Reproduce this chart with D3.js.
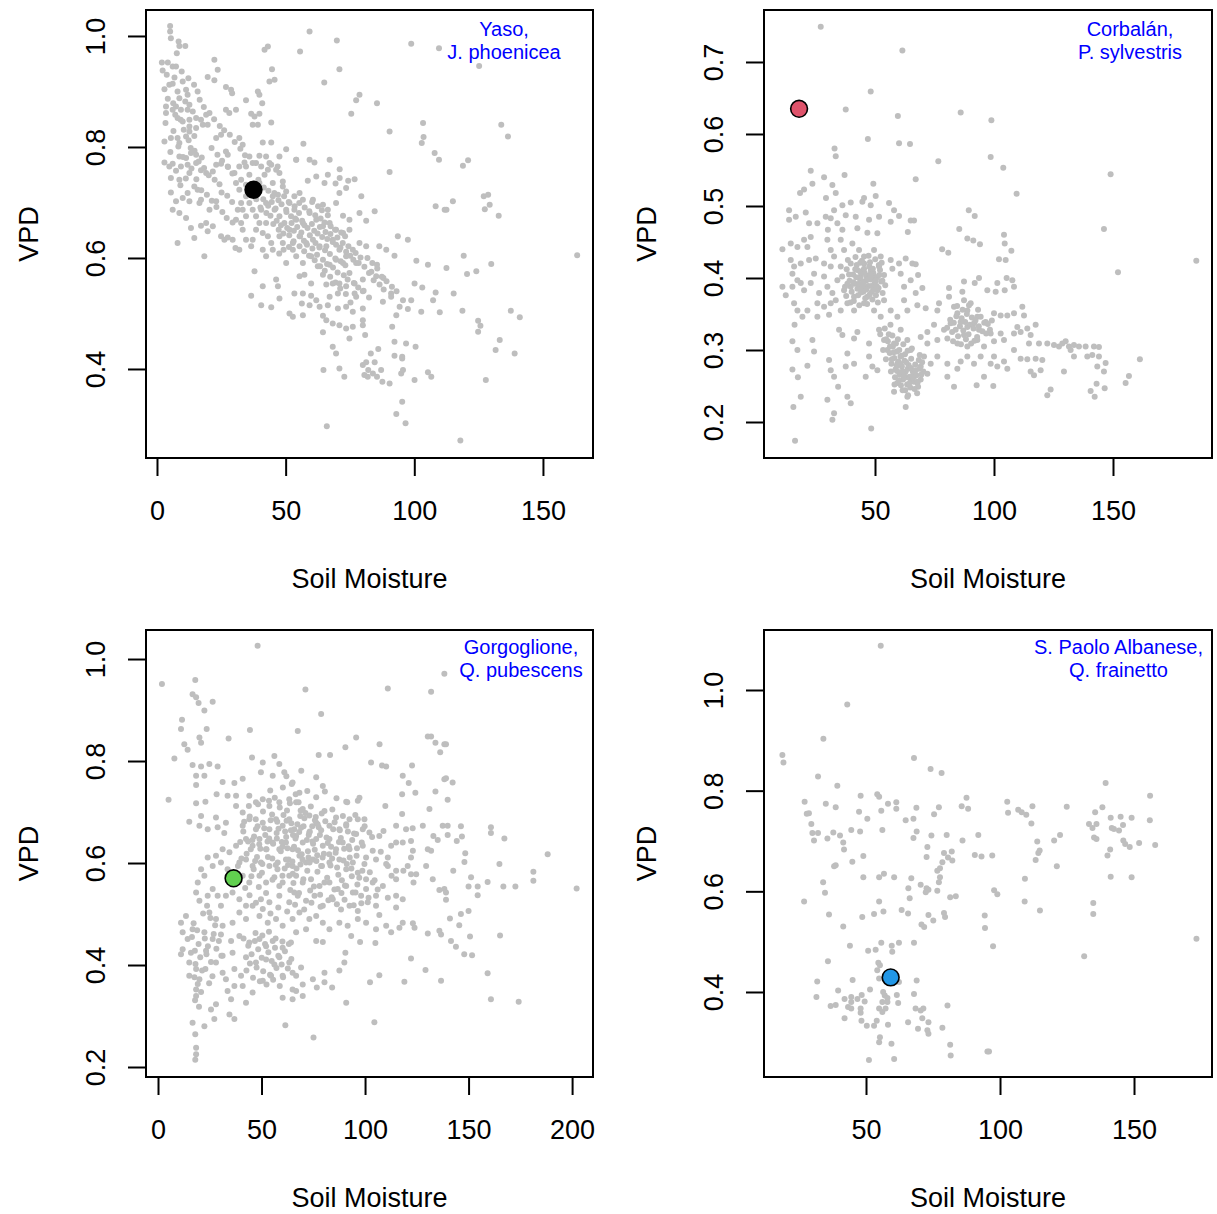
<!DOCTYPE html>
<html><head><meta charset="utf-8">
<script src="https://cdn.jsdelivr.net/npm/d3@7"></script>
<style>body{margin:0;background:#fff}svg{display:block}</style>
</head><body><svg id="chart" width="1217" height="1214"></svg>
<script>
// ---------------- DATA ----------------
const siteTitles = [
  ["Yaso,", "J. phoenicea"],
  ["Corbalán,", "P. sylvestris"],
  ["Gorgoglione,", "Q. pubescens"],
  ["S. Paolo Albanese,", "Q. frainetto"]
];
const xAxisTitle = "Soil Moisture";
const yAxisTitle = "VPD";

const xTicksYaso = [0, 50, 100, 150];
const yTicksYaso = [0.4, 0.6, 0.8, 1.0];
const xTicksCorbalan = [50, 100, 150];
const yTicksCorbalan = [0.2, 0.3, 0.4, 0.5, 0.6, 0.7];
const xTicksGorgoglione = [0, 50, 100, 150, 200];
const yTicksGorgoglione = [0.2, 0.4, 0.6, 0.8, 1.0];
const xTicksPaolo = [50, 100, 150];
const yTicksPaolo = [0.4, 0.6, 0.8, 1.0];

const highlightYaso = [37.5, 0.723];
const highlightCorbalan = [18.1, 0.635];
const highlightGorgoglione = [36.5, 0.570];
const highlightPaolo = [59.2, 0.429];

const yasoPoints = [
[5.1,1.018],[5.1,1.008],[5.4,0.996],[8.4,0.990],[8.7,0.982],[11.0,0.982],[7.7,0.969],[1.9,0.952],[4.2,0.952],[6.1,0.945],[7.4,0.945],[2.2,0.938],[22.3,0.957],[44.7,0.940],[41.8,0.975],[43.1,0.981],[45.7,0.921],[43.7,0.918],[19.7,0.926],[23.6,0.939],[22.3,0.920],[2.9,0.904],[4.8,0.912],[6.1,0.914],[8.0,0.900],[10.0,0.918],[11.3,0.903],[11.9,0.894],[8.7,0.888],[11.0,0.882],[12.6,0.876],[15.8,0.900],[7.4,0.873],[3.5,0.873],[6.1,0.867],[3.5,0.861],[9.3,0.867],[11.9,0.867],[13.9,0.864],[8.0,0.852],[10.0,0.846],[12.6,0.849],[15.2,0.852],[17.1,0.849],[19.1,0.858],[26.8,0.867],[28.1,0.861],[30.7,0.867],[26.8,0.908],[28.8,0.903],[29.2,0.897],[34.6,0.884],[39.2,0.900],[39.8,0.894],[40.9,0.879],[36.6,0.860],[37.9,0.855],[39.8,0.860],[37.2,0.840],[39.2,0.840],[44.4,0.844],[2.9,0.810],[5.4,0.816],[8.0,0.816],[8.7,0.807],[11.3,0.819],[12.6,0.828],[14.5,0.820],[12.6,0.837],[15.2,0.834],[17.8,0.840],[19.7,0.840],[23.0,0.816],[24.9,0.822],[26.8,0.792],[27.5,0.786],[32.0,0.816],[33.3,0.804],[41.1,0.808],[44.4,0.808],[47.6,0.783],[50.2,0.796],[54.1,0.777],[2.9,0.772],[4.8,0.765],[6.1,0.770],[8.7,0.783],[9.3,0.765],[11.3,0.780],[13.2,0.789],[15.2,0.786],[11.9,0.768],[12.6,0.753],[15.2,0.771],[17.1,0.758],[19.1,0.753],[21.7,0.756],[23.0,0.768],[24.9,0.770],[27.5,0.765],[30.1,0.753],[32.0,0.765],[34.0,0.772],[35.9,0.783],[38.5,0.771],[40.5,0.765],[42.4,0.783],[44.4,0.768],[46.9,0.765],[47.6,0.753],[48.9,0.738],[5.4,0.744],[8.7,0.741],[5.4,0.718],[7.4,0.702],[10.0,0.708],[11.9,0.717],[14.5,0.729],[15.8,0.723],[12.6,0.702],[16.5,0.699],[17.1,0.705],[20.4,0.687],[23.0,0.702],[6.1,0.687],[8.7,0.681],[11.3,0.672],[13.2,0.654],[14.5,0.636],[17.1,0.658],[19.1,0.663],[21.7,0.657],[19.7,0.648],[24.9,0.639],[26.2,0.633],[27.5,0.637],[29.4,0.633],[30.5,0.618],[32.0,0.615],[30.7,0.669],[32.7,0.663],[33.3,0.651],[34.6,0.633],[36.6,0.621],[8.0,0.627],[18.4,0.603],[34.6,0.711],[35.9,0.699],[37.2,0.687],[38.5,0.675],[39.8,0.663],[42.4,0.663],[41.1,0.645],[43.1,0.639],[44.4,0.627],[41.1,0.615],[42.4,0.603],[38.5,0.651],[37.2,0.633],[40.5,0.687],[42.4,0.699],[45.0,0.711],[47.0,0.714],[48.9,0.729],[50.2,0.720],[45.7,0.687],[47.6,0.675],[49.5,0.663],[51.5,0.651],[52.8,0.627],[52.8,0.615],[53.4,0.711],[47.6,0.639],[48.9,0.627],[45.0,0.615],[50.2,0.591],[37.9,0.576],[46.3,0.561],[47.0,0.549],[41.1,0.549],[36.6,0.532],[40.5,0.515],[44.4,0.511],[47.6,0.527],[51.5,0.500],[52.8,0.494],[53.4,0.536],[53.4,0.687],[51.5,0.699],[50.2,0.687],[34.6,0.675],[33.3,0.687],[32.7,0.699],[31.4,0.687],[32.0,0.723],[30.7,0.735],[32.7,0.741],[34.6,0.732],[35.9,0.750],[39.8,0.735],[41.8,0.750],[43.1,0.759],[45.0,0.735],[46.3,0.759],[43.7,0.771],[39.8,0.784],[37.2,0.771],[34.6,0.765],
[59.3,1.008],[69.9,0.992],[55.6,0.972],[70.9,0.940],[65.0,0.916],[78.7,0.894],[77.4,0.884],[85.5,0.879],[75.5,0.860],[98.8,0.986],[109.6,0.978],[103.4,0.843],[103.6,0.818],[102.9,0.807],[90.4,0.828],[107.9,0.789],[109.6,0.777],[56.9,0.806],[90.4,0.755],[108.3,0.693],[111.8,0.687],[54.1,0.777],[59.3,0.777],[61.2,0.772],[67.1,0.777],[71.0,0.760],[58.6,0.739],[61.9,0.747],[66.4,0.750],[71.0,0.744],[74.3,0.739],[76.8,0.742],[65.1,0.735],[69.4,0.734],[73.5,0.726],[70.9,0.717],[55.4,0.717],[56.7,0.705],[60.6,0.705],[64.5,0.696],[66.4,0.687],[69.6,0.699],[72.3,0.676],[74.8,0.669],[78.7,0.681],[81.3,0.667],[84.6,0.684],[79.4,0.711],[54.1,0.669],[56.7,0.663],[59.3,0.681],[61.9,0.669],[64.5,0.657],[67.1,0.663],[69.6,0.651],[72.3,0.645],[74.8,0.651],[55.4,0.639],[58.0,0.627],[60.6,0.633],[63.2,0.621],[65.8,0.621],[68.3,0.633],[70.9,0.615],[73.5,0.603],[76.1,0.615],[78.7,0.627],[81.3,0.621],[86.4,0.621],[89.1,0.615],[92.3,0.604],[93.6,0.639],[97.5,0.633],[54.1,0.603],[56.7,0.591],[59.9,0.603],[62.5,0.585],[67.1,0.588],[69.6,0.597],[72.3,0.591],[74.8,0.573],[77.4,0.591],[81.8,0.600],[83.7,0.591],[85.5,0.588],[82.4,0.573],[85.2,0.567],[88.0,0.564],[55.4,0.567],[57.3,0.570],[59.9,0.554],[64.5,0.570],[65.8,0.552],[68.3,0.554],[70.9,0.554],[73.5,0.549],[76.8,0.554],[80.0,0.561],[80.0,0.540],[56.7,0.536],[59.9,0.532],[61.9,0.524],[67.1,0.530],[70.3,0.536],[76.8,0.536],[56.3,0.518],[59.3,0.515],[63.2,0.512],[66.4,0.515],[70.3,0.509],[73.5,0.512],[76.1,0.503],[80.0,0.509],[87.8,0.521],[91.0,0.536],[91.0,0.530],[94.3,0.512],[95.6,0.524],[98.8,0.524],[100.8,0.595],[105.3,0.588],[100.1,0.554],[103.1,0.547],[107.3,0.524],[108.3,0.538],[109.9,0.502],[102.7,0.503],[97.5,0.508],[93.0,0.497],[64.5,0.496],[56.7,0.497],[65.8,0.488],[68.3,0.482],[70.9,0.479],[73.5,0.473],[76.1,0.476],[80.0,0.488],[80.0,0.479],[64.5,0.466],[74.8,0.455],[80.9,0.461],[91.4,0.476],[92.3,0.449],[96.8,0.446],[100.5,0.440],[68.3,0.440],[69.6,0.428],[83.1,0.428],[86.0,0.436],[92.3,0.424],[95.3,0.419],[95.3,0.422],[81.3,0.412],[84.6,0.412],[80.0,0.407],[82.1,0.398],[83.9,0.392],[87.1,0.398],[80.6,0.389],[81.9,0.386],[85.5,0.386],[87.6,0.377],[90.4,0.374],[94.9,0.392],[95.6,0.398],[100.1,0.380],[105.3,0.394],[106.6,0.386],[64.7,0.398],[70.9,0.401],[72.8,0.386],[95.3,0.341],[93.0,0.319],[96.6,0.302],[66.0,0.297],
[125.2,0.946],[133.8,0.840],[136.4,0.819],[118.9,0.766],[120.9,0.776],[115.0,0.702],[112.5,0.687],[127.0,0.711],[128.7,0.714],[127.4,0.688],[129.3,0.696],[132.8,0.676],[119.2,0.604],[112.5,0.582],[120.5,0.571],[124.1,0.576],[129.9,0.589],[163.3,0.605],[115.3,0.536],[118.7,0.505],[124.8,0.487],[125.7,0.478],[124.8,0.467],[137.5,0.505],[141.0,0.493],[133.2,0.452],[131.6,0.434],[139.0,0.428],[127.8,0.380],[117.9,0.271],
[41.3,0.706],[43.2,0.694],[44.6,0.701],[46.1,0.689],[48.4,0.697],[50.3,0.683],[52.1,0.675],[53.7,0.671],[55.2,0.681],[56.4,0.667],[57.3,0.659],[58.5,0.654],[60.2,0.661],[61.1,0.649],[62.4,0.644],[63.3,0.656],[64.2,0.638],[65.5,0.647],[66.2,0.634],[67.4,0.643],[68.3,0.629],[69.6,0.624],[70.1,0.637],[71.3,0.619],[72.2,0.627],[73.5,0.611],[74.4,0.621],[75.1,0.604],[76.3,0.597],[77.2,0.609],[78.4,0.591],[79.1,0.601],[80.6,0.584],[45.2,0.661],[47.3,0.651],[49.1,0.644],[51.4,0.641],[53.2,0.649],[55.6,0.639],[57.1,0.631],[59.4,0.641],[61.6,0.627],[63.1,0.619],[65.3,0.614],[67.2,0.607],[69.3,0.599],[71.4,0.594],[73.2,0.587],[44.1,0.676],[46.5,0.667],[48.2,0.659],[50.6,0.654],[52.3,0.663],[54.5,0.656],[56.1,0.646],[58.3,0.624],[60.4,0.617],[62.2,0.606],[64.5,0.597],[66.1,0.589],[68.4,0.583],[70.2,0.574],[72.6,0.569],[74.1,0.561],[76.5,0.555],[78.2,0.547],[80.3,0.541],[82.4,0.529],[55.3,0.699],[57.4,0.691],[59.2,0.684],[61.5,0.677],[63.6,0.671],[65.1,0.664],[67.5,0.657],[69.2,0.651],[71.6,0.646],[73.1,0.639],[36.3,0.714],[38.6,0.706],[40.2,0.691],[42.5,0.681],[39.4,0.741],[41.5,0.727],[43.3,0.721],[45.6,0.717],[47.2,0.704],[49.4,0.711],[51.2,0.701],[53.5,0.693],[60.3,0.701],[62.6,0.693],[64.1,0.686],[66.4,0.677],[84.2,0.560],[86.5,0.552],[88.1,0.543],[83.3,0.575],[85.6,0.581],[87.4,0.566],[89.2,0.558],[91.3,0.548],[93.1,0.540],[77.4,0.530],[75.2,0.520],[73.4,0.535],[71.2,0.545],[69.4,0.556],[67.3,0.566],[65.2,0.577],[63.4,0.585],[61.3,0.596],[59.1,0.604],[57.2,0.612],[55.4,0.621],[53.1,0.630],[51.3,0.620],[49.2,0.615],[47.5,0.608],
[4.2,0.887],[6.3,0.879],[7.1,0.858],[9.2,0.849],[10.4,0.831],[12.3,0.812],[13.1,0.798],[14.6,0.793],[16.2,0.774],[17.4,0.781],[18.3,0.762],[20.1,0.749],[22.4,0.741],[24.3,0.733],[25.1,0.718],[27.3,0.712],[29.2,0.701],[6.4,0.829],[8.3,0.801],[10.1,0.782],[3.3,0.843],[5.2,0.791],[7.4,0.757],[9.1,0.731],[11.2,0.743],[13.4,0.761],[15.3,0.742],[17.2,0.722],[19.4,0.714],[21.3,0.703],[23.1,0.692],[25.4,0.683],[27.1,0.672],[29.4,0.664],[3.8,0.930],[6.8,0.925],[9.6,0.936],[12.2,0.924],[14.4,0.912],[16.6,0.885],[18.2,0.872],[20.4,0.861],[22.2,0.850],[24.4,0.838],[26.1,0.830],[28.3,0.822],[30.2,0.809],[32.4,0.797],[34.2,0.785],[21.2,0.798],[23.5,0.786],[25.3,0.775],[27.6,0.764],[29.3,0.752]
];

const corbalanPoints = [
[27.2,0.749],[61.5,0.716],[48.2,0.659],[37.7,0.634],[59.6,0.625],[47.0,0.593],[60.1,0.587],[64.7,0.586],[33.0,0.580],[33.5,0.569],[23.0,0.549],[28.6,0.540],[37.2,0.543],[49.3,0.531],[18.5,0.518],[20.2,0.523],[23.7,0.531],[32.1,0.529],[33.5,0.518],[29.4,0.511],[13.9,0.494],[13.9,0.481],[16.7,0.485],[20.9,0.491],[22.3,0.476],[25.8,0.476],[29.3,0.485],[32.8,0.494],[36.3,0.501],[39.8,0.505],[44.7,0.506],[45.4,0.511],[48.2,0.501],[50.3,0.514],[55.9,0.504],[58.0,0.494],[60.1,0.486],[56.6,0.478],[51.7,0.485],[47.5,0.481],[41.9,0.485],[37.7,0.487],[34.2,0.476],[31.4,0.483],[30.2,0.467],[36.3,0.467],[42.6,0.469],[46.8,0.463],[51.0,0.462],[65.0,0.480],[63.8,0.464],
[11.1,0.440],[14.6,0.448],[17.4,0.443],[20.2,0.453],[23.0,0.457],[21.6,0.443],[30.0,0.453],[31.4,0.439],[35.6,0.453],[32.8,0.430],[37.0,0.439],[40.5,0.448],[43.3,0.439],[45.4,0.430],[49.6,0.439],[52.4,0.430],[14.6,0.425],[16.0,0.416],[18.8,0.420],[22.3,0.425],[25.1,0.427],[28.6,0.420],[31.4,0.416],[35.6,0.416],[39.8,0.420],[42.6,0.411],[45.4,0.420],[48.2,0.411],[51.7,0.416],[56.6,0.425],[60.1,0.420],[62.9,0.427],[65.7,0.420],[11.1,0.388],[12.5,0.376],[15.3,0.406],[17.4,0.397],[15.3,0.388],[18.8,0.393],[20.2,0.383],[23.0,0.393],[24.4,0.406],[26.5,0.379],[28.6,0.402],[30.0,0.388],[32.1,0.379],[34.2,0.397],[33.5,0.369],[37.0,0.383],[39.8,0.388],[41.2,0.374],[44.0,0.402],[45.4,0.388],[46.8,0.374],[49.6,0.402],[51.0,0.383],[53.8,0.369],[57.3,0.413],[60.8,0.406],[62.2,0.388],[65.0,0.397],[62.2,0.369],
[16.0,0.365],[17.4,0.355],[21.6,0.355],[25.8,0.365],[28.6,0.360],[31.4,0.365],[35.6,0.355],[38.4,0.365],[41.2,0.355],[45.4,0.365],[49.6,0.355],[52.4,0.346],[56.6,0.355],[59.4,0.346],[63.6,0.355],[19.5,0.346],[25.8,0.346],[30.7,0.349],[16.2,0.335],[15.3,0.312],[17.4,0.300],[23.7,0.314],[24.4,0.298],[34.9,0.328],[36.3,0.321],[42.6,0.325],[41.2,0.316],[47.5,0.309],[51.7,0.328],[53.8,0.314],[55.2,0.300],[58.0,0.309],[60.8,0.328],[63.6,0.314],[65.0,0.300],[30.7,0.286],[31.4,0.272],[32.8,0.263],[38.4,0.295],[41.2,0.281],[37.7,0.277],[15.3,0.273],[17.6,0.262],[21.6,0.278],[47.5,0.291],[48.9,0.277],[46.1,0.263],[51.0,0.272],[59.4,0.281],[62.2,0.268],[65.0,0.258],[59.4,0.254],[58.0,0.242],[63.6,0.235],[62.9,0.221],[18.8,0.235],[30.0,0.231],[34.5,0.249],[38.4,0.235],[39.8,0.226],[15.7,0.221],[32.8,0.212],[32.1,0.203],[48.4,0.191],[16.4,0.174],
[86.0,0.630],[98.9,0.619],[98.6,0.568],[76.6,0.562],[103.9,0.553],[67.1,0.537],[109.5,0.517],[66.4,0.480],[89.4,0.494],[91.9,0.486],[85.4,0.468],[88.8,0.455],[91.3,0.452],[94.1,0.447],[104.2,0.460],[104.5,0.448],[107.3,0.438],[78.2,0.440],[80.8,0.435],[102.1,0.426],[104.9,0.425],[67.1,0.419],[68.1,0.404],[105.3,0.400],[107.7,0.397],[87.4,0.395],[91.9,0.393],[93.7,0.400],[97.2,0.383],[101.4,0.393],[100.7,0.381],[104.5,0.383],[108.4,0.388],[69.9,0.386],[67.1,0.379],[81.1,0.386],[81.1,0.374],[86.7,0.381],[76.9,0.365],[76.2,0.355],[71.3,0.358],[67.8,0.362],[83.2,0.360],[87.4,0.369],[90.2,0.365],[84.6,0.351],[88.8,0.355],[93.0,0.346],[96.5,0.339],[100.0,0.351],[102.8,0.348],[105.6,0.348],[108.4,0.351],[111.9,0.360],[112.6,0.348],[81.8,0.337],[86.0,0.339],[88.8,0.332],[91.6,0.337],[93.7,0.328],[83.9,0.328],[79.0,0.328],[74.8,0.335],[72.0,0.325],[69.2,0.318],[72.0,0.309],[76.2,0.314],[80.4,0.316],[84.6,0.309],[87.4,0.321],[88.8,0.305],[93.0,0.314],[95.8,0.305],[98.6,0.323],[100.0,0.312],[102.8,0.323],[104.2,0.314],[108.4,0.323],[109.8,0.332],[111.2,0.325],[114.0,0.330],[117.5,0.335],[115.4,0.321],[114.7,0.309],[118.9,0.309],[122.4,0.309],[125.2,0.307],[127.3,0.305],[128.7,0.309],[108.4,0.300],[111.2,0.288],[114.0,0.287],[117.5,0.288],[120.3,0.286],[100.0,0.291],[101.4,0.277],[105.6,0.274],[104.2,0.284],[98.6,0.281],[94.4,0.291],[91.6,0.281],[88.8,0.291],[86.0,0.284],[84.6,0.274],[80.4,0.281],[80.4,0.263],[83.2,0.249],[76.2,0.291],[73.4,0.281],[70.6,0.291],[69.2,0.277],[72.0,0.267],[66.4,0.263],[67.8,0.254],[115.4,0.270],[116.8,0.265],[119.6,0.272],[92.7,0.251],[95.8,0.263],[99.7,0.250],[122.4,0.237],[123.8,0.245],
[149.0,0.544],[146.2,0.468],[152.1,0.408],[185.0,0.424],[130.1,0.312],[131.5,0.305],[133.6,0.307],[132.2,0.300],[135.7,0.305],[138.5,0.305],[142.0,0.305],[144.1,0.304],[139.2,0.291],[141.3,0.293],[133.6,0.291],[144.1,0.291],[146.9,0.282],[143.4,0.277],[146.2,0.270],[161.3,0.287],[156.7,0.264],[155.3,0.254],[143.1,0.253],[146.5,0.247],[140.6,0.243],[142.3,0.235],[129.4,0.270],
[36.2,0.402],[37.4,0.388],[38.1,0.412],[39.3,0.396],[40.2,0.381],[40.8,0.405],[41.5,0.392],[42.3,0.418],[42.9,0.376],[43.6,0.399],[44.2,0.387],[44.8,0.410],[45.3,0.395],[45.9,0.372],[46.4,0.403],[47.1,0.389],[47.6,0.416],[48.2,0.398],[48.7,0.381],[49.3,0.407],[49.8,0.392],[50.4,0.376],[50.9,0.401],[51.5,0.386],[52.1,0.411],[52.6,0.395],[53.2,0.379],[53.8,0.404],[54.3,0.390],[41.1,0.368],[43.4,0.362],[46.7,0.364],[48.9,0.370],[51.2,0.366],[38.6,0.425],[41.8,0.429],[44.5,0.424],[47.3,0.431],[50.1,0.426],[52.8,0.421],[37.9,0.375],[39.7,0.366],[45.1,0.381],[47.8,0.377],[49.6,0.384],[43.9,0.408],[46.2,0.396],[42.6,0.385],[44.9,0.393],[48.4,0.389],
[39.1,0.405],[40.9,0.394],[42.1,0.401],[43.2,0.392],[45.7,0.407],[46.9,0.398],[48.0,0.405],[50.3,0.396],[51.8,0.404],[53.1,0.396],[44.1,0.380],[46.4,0.384],[50.7,0.389],[41.7,0.412],[43.8,0.421],[47.9,0.422],[49.1,0.413],[51.6,0.418],[45.4,0.413],[38.4,0.392],
[55.4,0.312],[56.2,0.296],[56.9,0.281],[57.5,0.305],[58.1,0.289],[58.6,0.273],[59.2,0.298],[59.8,0.284],[60.3,0.266],[60.7,0.291],[61.3,0.277],[61.8,0.259],[62.4,0.285],[62.9,0.270],[63.5,0.252],[64.1,0.279],[64.6,0.263],[65.2,0.288],[65.8,0.271],[66.3,0.256],[66.9,0.280],[67.4,0.265],[68.1,0.249],[68.6,0.274],[69.2,0.259],[69.8,0.283],[57.3,0.320],[59.6,0.315],[61.9,0.308],[63.7,0.299],[65.5,0.302],[58.4,0.262],[60.9,0.251],[62.7,0.244],[64.8,0.248],[67.7,0.240],[56.7,0.270],[59.1,0.278],[61.5,0.270],[63.2,0.262],[66.1,0.268],[68.8,0.293],[70.3,0.270],[54.6,0.287],[53.4,0.300],[52.2,0.322],[54.1,0.330],[56.5,0.335],
[57.9,0.297],[60.6,0.281],[62.2,0.263],[64.3,0.253],[66.6,0.246],[59.3,0.271],[61.1,0.292],[63.8,0.274],[65.9,0.262],[67.9,0.256],[58.8,0.309],[60.2,0.300],[62.6,0.294],[55.8,0.322],[54.7,0.315],[57.1,0.287],[63.1,0.283],[65.1,0.275],[67.1,0.272],[69.5,0.266],[61.6,0.244],[63.9,0.237],[60.1,0.258],[58.2,0.252],[56.3,0.305],[68.4,0.286],
[80.3,0.331],[81.6,0.342],[82.4,0.325],[83.1,0.338],[84.2,0.347],[84.9,0.319],[85.7,0.333],[86.4,0.344],[87.1,0.327],[87.9,0.339],[88.6,0.350],[89.3,0.322],[89.9,0.335],[90.7,0.345],[91.4,0.330],[92.2,0.341],[92.9,0.318],[93.6,0.333],[94.4,0.346],[95.1,0.326],[95.9,0.338],[96.7,0.323],[97.4,0.336],[98.3,0.328],[99.1,0.341],[82.8,0.312],[86.1,0.308],[88.2,0.315],[90.4,0.309],[93.3,0.356],[86.8,0.356],[84.5,0.361],[89.5,0.362],[91.8,0.313]
];

const gorgoglionePoints = [
[48.1,1.026],[1.9,0.951],[18.0,0.959],[16.7,0.931],[18.4,0.925],[19.6,0.914],[22.4,0.899],[26.4,0.916],[11.6,0.881],[11.1,0.863],[20.0,0.846],[20.8,0.836],[23.5,0.863],[34.1,0.844],[44.4,0.861],[12.7,0.833],[14.3,0.822],[7.9,0.805],[16.7,0.792],[20.8,0.789],[24.8,0.794],[28.8,0.789],[18.4,0.771],[22.4,0.771],[18.4,0.753],[31.2,0.759],[36.9,0.757],[40.9,0.765],[45.4,0.807],[50.6,0.797],[56.2,0.810],[58.6,0.794],[49.7,0.778],[55.4,0.771],[61.0,0.778],[65.0,0.758],[5.1,0.724],[18.4,0.717],[22.9,0.720],[28.3,0.735],[33.6,0.732],[37.7,0.732],[15.1,0.681],[20.0,0.673],[20.8,0.692],[24.0,0.666],[28.0,0.689],[28.8,0.670],[32.0,0.659],[32.8,0.679],[37.7,0.712],[40.9,0.699],[44.1,0.732],[47.3,0.719],[50.6,0.725],[53.8,0.712],[58.6,0.719],[63.4,0.725],[40.9,0.673],[44.1,0.686],[47.3,0.666],[50.6,0.679],[53.8,0.666],[57.0,0.686],[60.2,0.673],[63.4,0.686],[65.8,0.666],[42.5,0.647],[45.7,0.634],[49.0,0.647],[52.2,0.627],[55.4,0.640],[58.6,0.627],[61.8,0.640],[65.0,0.627],[37.7,0.634],[34.5,0.621],[31.2,0.627],[28.0,0.614],[24.0,0.611],[26.4,0.594],[30.4,0.601],[33.6,0.588],[39.3,0.601],[42.5,0.607],[45.7,0.594],[49.7,0.601],[53.8,0.594],[57.8,0.601],[61.8,0.607],[65.0,0.594],[40.9,0.575],[44.1,0.562],[49.0,0.575],[52.2,0.562],[56.2,0.572],[60.2,0.562],[63.4,0.575],[20.8,0.588],[22.4,0.575],[19.2,0.562],[18.4,0.542],[20.0,0.526],[24.0,0.536],[26.4,0.549],[28.8,0.536],[30.4,0.516],[32.8,0.536],[36.0,0.542],[39.3,0.529],[42.5,0.516],[39.3,0.503],[45.7,0.516],[49.7,0.529],[53.8,0.523],[58.6,0.536],[63.4,0.523],[65.8,0.542],[24.8,0.503],[28.0,0.490],[31.2,0.477],[36.0,0.483],[42.5,0.490],[49.0,0.496],[53.0,0.483],[57.0,0.490],[60.2,0.477],[65.0,0.490],[13.5,0.496],[11.1,0.483],[11.9,0.464],[16.7,0.470],[14.3,0.451],[22.4,0.464],[26.4,0.451],[30.4,0.460],[35.3,0.447],[39.3,0.457],[44.1,0.444],[49.0,0.451],[52.2,0.437],[55.4,0.447],[60.2,0.434],[64.2,0.444],[11.9,0.431],[15.9,0.424],[11.1,0.421],[23.2,0.428],[31.2,0.418],[36.0,0.424],[42.5,0.415],[47.3,0.405],[52.2,0.411],[56.2,0.401],[58.6,0.415],[63.4,0.405],[15.1,0.405],[18.4,0.392],[15.1,0.379],[20.0,0.372],[28.0,0.405],[31.2,0.385],[32.8,0.372],[36.9,0.392],[40.1,0.379],[36.9,0.359],[40.9,0.359],[50.6,0.369],[54.6,0.379],[60.2,0.379],[65.0,0.385],[65.0,0.352],[60.2,0.336],[18.4,0.352],[18.4,0.339],[33.6,0.349],[45.7,0.346],[35.3,0.333],[42.5,0.326],[25.6,0.313],[28.0,0.323],[16.7,0.287],[22.4,0.280],[27.2,0.294],[34.5,0.303],[36.9,0.294],[18.0,0.264],[18.4,0.238],[18.4,0.225],[18.0,0.214],[61.5,0.282],[65.0,0.333],
[71.2,0.940],[111.0,0.942],[131.9,0.936],[138.3,0.971],[78.8,0.892],[67.5,0.859],[95.7,0.846],[90.5,0.827],[107.0,0.833],[77.6,0.812],[83.1,0.812],[102.9,0.797],[108.2,0.791],[110.2,0.789],[122.7,0.791],[130.3,0.848],[131.9,0.848],[134.0,0.836],[136.3,0.817],[138.3,0.833],[138.3,0.764],[76.4,0.768],[79.6,0.751],[118.2,0.771],[121.1,0.757],[124.3,0.738],[117.9,0.735],[134.0,0.740],[68.3,0.738],[90.9,0.720],[96.5,0.722],[97.3,0.728],[109.8,0.712],[117.9,0.696],[131.1,0.706],[66.7,0.719],[69.9,0.706],[73.1,0.693],[76.4,0.679],[80.4,0.702],[86.0,0.689],[82.8,0.673],[87.6,0.666],[90.9,0.673],[92.5,0.686],[96.5,0.686],[99.7,0.686],[102.1,0.660],[98.9,0.666],[95.7,0.657],[106.9,0.653],[108.9,0.663],[115.0,0.673],[119.8,0.666],[123.0,0.668],[127.9,0.673],[137.5,0.673],[133.0,0.653],[135.1,0.645],[66.7,0.653],[69.9,0.640],[73.1,0.660],[76.4,0.647],[79.6,0.634],[82.8,0.647],[86.0,0.627],[89.2,0.640],[92.5,0.627],[98.9,0.634],[103.7,0.624],[100.5,0.611],[105.3,0.607],[112.6,0.634],[115.0,0.640],[118.2,0.640],[122.2,0.643],[123.1,0.624],[122.2,0.611],[120.6,0.594],[118.5,0.585],[111.0,0.611],[111.0,0.594],[115.0,0.585],[115.0,0.568],[122.2,0.578],[124.7,0.578],[123.4,0.562],[130.3,0.627],[131.9,0.624],[129.5,0.594],[132.7,0.568],[138.3,0.549],[135.9,0.547],[68.3,0.614],[71.5,0.601],[74.8,0.607],[78.8,0.594],[82.8,0.601],[87.6,0.607],[90.9,0.588],[94.1,0.601],[96.5,0.581],[100.5,0.568],[103.7,0.562],[108.6,0.555],[105.3,0.536],[111.0,0.532],[115.0,0.536],[118.2,0.529],[115.0,0.513],[66.7,0.575],[69.9,0.562],[73.9,0.568],[78.0,0.555],[82.8,0.562],[86.8,0.549],[90.9,0.555],[94.1,0.542],[98.1,0.536],[101.3,0.523],[105.3,0.516],[106.9,0.498],[67.5,0.536],[71.5,0.526],[75.6,0.536],[79.6,0.516],[84.4,0.529],[88.4,0.509],[92.5,0.516],[96.5,0.506],[68.3,0.503],[73.1,0.490],[76.4,0.496],[79.6,0.483],[82.8,0.470],[87.6,0.483],[91.6,0.477],[96.5,0.490],[100.5,0.483],[105.3,0.470],[110.2,0.477],[112.6,0.464],[116.6,0.473],[118.2,0.483],[123.1,0.482],[123.9,0.473],[130.3,0.462],[135.9,0.467],[136.7,0.460],[66.7,0.464],[71.5,0.470],[76.4,0.447],[79.6,0.445],[93.3,0.457],[97.6,0.445],[105.0,0.443],[122.2,0.413],[90.5,0.424],[90.0,0.405],[87.6,0.389],[69.1,0.395],[66.7,0.379],[74.8,0.372],[76.7,0.356],[80.4,0.385],[80.4,0.366],[84.1,0.356],[69.9,0.362],[66.7,0.349],[69.9,0.339],[106.9,0.380],[102.4,0.366],[119.0,0.367],[129.2,0.390],[136.7,0.369],[90.9,0.326],[104.5,0.288],[75.1,0.258],
[139.1,0.833],[139.1,0.766],[142.3,0.758],[139.9,0.724],[139.9,0.673],[139.9,0.655],[146.3,0.672],[146.8,0.652],[144.3,0.643],[160.8,0.670],[160.8,0.659],[167.3,0.648],[188.2,0.617],[148.4,0.619],[148.0,0.602],[164.9,0.598],[142.6,0.585],[151.2,0.572],[150.0,0.554],[154.4,0.554],[159.2,0.563],[166.8,0.554],[172.6,0.554],[181.3,0.583],[181.3,0.565],[202.2,0.550],[154.4,0.537],[139.1,0.542],[139.1,0.528],[141.0,0.491],[146.3,0.500],[150.0,0.506],[145.5,0.478],[141.5,0.447],[143.9,0.436],[150.7,0.456],[165.2,0.458],[147.9,0.421],[151.7,0.419],[159.2,0.384],[160.8,0.333],[174.2,0.328],
[41.2,0.662],[42.8,0.618],[44.3,0.691],[45.6,0.645],[46.9,0.604],[48.1,0.672],[49.4,0.628],[50.7,0.701],[51.8,0.655],[53.1,0.612],[54.4,0.684],[55.6,0.638],[56.9,0.596],[58.2,0.667],[59.3,0.623],[60.6,0.694],[61.9,0.651],[63.1,0.607],[64.4,0.678],[65.7,0.632],[66.9,0.589],[68.2,0.661],[69.4,0.617],[70.7,0.688],[71.9,0.645],[73.2,0.601],[74.5,0.672],[75.7,0.626],[77.0,0.583],[78.2,0.655],[79.5,0.611],[80.8,0.682],[82.0,0.639],[83.3,0.595],[84.6,0.666],[85.8,0.620],[87.1,0.577],[88.3,0.649],[89.6,0.605],[90.9,0.676],[92.1,0.633],[93.4,0.589],[94.7,0.658],[95.9,0.614],[97.2,0.571],[98.4,0.640],[99.7,0.598],[43.5,0.642],[47.2,0.686],[52.4,0.627],[57.6,0.681],[62.5,0.629],[67.3,0.676],[72.4,0.623],[77.6,0.670],[82.7,0.617],[87.8,0.664],[92.6,0.611],[45.1,0.574],[50.2,0.581],[55.3,0.567],[60.1,0.575],[65.4,0.561],[70.2,0.568],[75.3,0.554],[80.4,0.562],[85.2,0.548],[90.3,0.556],[95.4,0.542],[100.5,0.549],[48.3,0.715],[53.6,0.722],[58.8,0.709],[63.7,0.717],[68.9,0.703],[73.8,0.711],[79.1,0.697],[84.2,0.705],[89.3,0.692],[54.2,0.742],[60.3,0.748],[66.5,0.735],[72.1,0.741],[76.4,0.729],[102.3,0.582],[104.6,0.566],[106.1,0.548],[101.7,0.532],[98.2,0.521],[94.5,0.517],[90.1,0.528],[86.4,0.519],[82.3,0.527],[78.5,0.514],[74.1,0.522],[70.6,0.509],[66.2,0.518],[62.4,0.505],[58.1,0.513],[54.3,0.501],[50.6,0.510],[47.3,0.522],[44.2,0.537],[42.1,0.551],[39.4,0.566],[38.6,0.594],[40.3,0.609],[39.7,0.641],[41.6,0.681],[43.9,0.712],[61.2,0.589],[64.9,0.603],[68.8,0.597],[72.7,0.611],[76.5,0.604],[80.1,0.618],[57.4,0.648],[61.4,0.662],[65.2,0.655],[69.1,0.669],[73.3,0.662],[77.1,0.676],
[46.4,0.652],[48.9,0.637],[51.3,0.668],[53.7,0.648],[55.1,0.695],[57.3,0.659],[59.8,0.641],[62.1,0.683],[64.2,0.664],[66.4,0.648],[68.7,0.692],[70.3,0.672],[72.8,0.655],[74.9,0.638],[76.2,0.690],[78.8,0.664],[81.4,0.650],[83.6,0.632],[85.3,0.680],[87.4,0.641],[89.9,0.628],[91.7,0.662],[93.8,0.645],[96.1,0.629],[47.8,0.612],[50.4,0.598],[52.9,0.642],[55.2,0.609],[57.7,0.588],[60.1,0.632],[62.8,0.596],[65.1,0.579],[67.6,0.625],[69.8,0.607],[72.1,0.585],[74.6,0.642],[76.9,0.615],[79.2,0.594],[81.7,0.571],[84.1,0.609],[86.5,0.591],[88.8,0.566],[91.2,0.598],[93.6,0.574],[96.3,0.558],[98.7,0.585],[56.4,0.728],[62.3,0.703],[67.9,0.719],[71.2,0.698],[75.8,0.684],[58.6,0.555],[63.9,0.547],[68.1,0.541],[73.5,0.546],[78.3,0.538],[83.9,0.533],[88.6,0.541],[52.2,0.541],[48.7,0.553],[46.2,0.588],[44.8,0.627],[62.0,0.770],[64.6,0.755],[69.2,0.781],[80.6,0.740],[86.2,0.727],[91.4,0.719],[95.3,0.694],[99.8,0.672],[103.4,0.651],[107.6,0.622],[110.2,0.598],[112.8,0.575],
[41.3,0.452],[43.6,0.438],[45.2,0.421],[46.8,0.447],[48.4,0.431],[50.1,0.414],[51.7,0.441],[53.3,0.425],[54.9,0.408],[56.5,0.434],[58.1,0.418],[59.7,0.401],[61.3,0.427],[44.4,0.403],[47.6,0.395],[50.8,0.388],[54.1,0.381],[57.2,0.394],[60.4,0.376],[42.7,0.389],[45.9,0.375],[49.2,0.368],[52.4,0.362],[55.6,0.371],[58.8,0.359],[47.1,0.463],[50.4,0.458],[53.6,0.465],[56.8,0.452],[60.1,0.446],[63.2,0.441],[62.7,0.393],[64.4,0.412],
[17.2,0.482],[18.9,0.468],[16.4,0.455],[19.6,0.441],[17.8,0.428],[20.4,0.415],[18.1,0.402],[21.3,0.389],[17.6,0.376],[19.2,0.363],[20.8,0.347],[17.9,0.331],[19.8,0.318],[22.6,0.452],[24.1,0.437],[23.4,0.421],[25.6,0.406],[22.9,0.392],[26.3,0.378],[24.7,0.364],[21.8,0.501],[23.7,0.516],[25.3,0.492],[27.6,0.478],[26.9,0.461],[29.4,0.447],[28.2,0.432],[30.6,0.418]
];

const paoloPoints = [
[55.5,1.088],[43.0,0.971],[34.1,0.903],[18.8,0.871],[19.2,0.856],[67.9,0.865],[74.1,0.843],[78.2,0.835],[32.1,0.828],[39.3,0.810],[27.1,0.778],[35.0,0.774],[38.7,0.767],[48.0,0.790],[54.2,0.793],[54.9,0.788],[58.2,0.774],[61.3,0.777],[61.3,0.764],[47.4,0.758],[55.7,0.760],[50.5,0.744],[68.8,0.766],[77.2,0.767],[75.4,0.753],[64.8,0.741],[67.7,0.744],[85.7,0.769],[88.1,0.764],[87.5,0.786],[27.9,0.754],[28.7,0.755],[29.6,0.734],[30.0,0.716],[32.1,0.716],[30.6,0.701],[35.6,0.705],[37.8,0.717],[40.3,0.711],[41.5,0.697],[41.8,0.683],[44.5,0.722],[47.8,0.719],[56.1,0.722],[67.7,0.706],[68.9,0.719],[74.4,0.711],[80.1,0.712],[86.0,0.701],[91.9,0.712],[72.9,0.688],[72.6,0.668],[79.1,0.676],[80.6,0.667],[82.2,0.661],[82.0,0.679],[78.5,0.658],[77.6,0.646],[76.6,0.641],[90.6,0.672],[93.1,0.669],[38.7,0.652],[38.1,0.650],[44.9,0.659],[49.0,0.670],[49.0,0.628],[54.9,0.628],[56.7,0.635],[60.5,0.628],[66.9,0.626],[65.8,0.606],[70.4,0.613],[72.6,0.606],[73.3,0.603],[72.3,0.598],[77.6,0.628],[77.2,0.618],[76.6,0.601],[81.4,0.588],[83.5,0.590],[34.0,0.618],[34.7,0.597],[26.9,0.580],[54.9,0.580],[66.3,0.586],[63.3,0.563],[65.7,0.556],[56.5,0.560],[53.0,0.555],[48.6,0.549],[36.2,0.554],[41.5,0.530],[73.3,0.553],[75.1,0.542],[79.1,0.557],[79.5,0.549],[94.3,0.552],[94.4,0.527],[70.7,0.534],[71.7,0.529],[44.0,0.492],[50.8,0.482],[53.6,0.484],[55.7,0.498],[59.6,0.492],[59.8,0.480],[62.3,0.498],[67.9,0.498],[35.8,0.461],[54.6,0.458],[55.2,0.453],[54.2,0.443],[54.9,0.427],[31.8,0.421],[45.0,0.424],[62.3,0.420],[68.9,0.423],[51.5,0.405],[31.5,0.390],[39.6,0.403],[42.0,0.386],[44.5,0.390],[44.5,0.380],[46.8,0.386],[48.4,0.394],[49.5,0.381],[36.8,0.372],[38.7,0.374],[43.3,0.370],[44.5,0.367],[48.0,0.367],[48.0,0.359],[56.4,0.400],[57.0,0.393],[58.0,0.388],[56.1,0.380],[58.0,0.380],[61.5,0.394],[62.0,0.378],[54.9,0.367],[56.1,0.360],[57.3,0.367],[67.9,0.396],[68.5,0.367],[70.4,0.363],[71.4,0.367],[80.4,0.373],[42.0,0.348],[48.3,0.343],[50.3,0.333],[53.0,0.333],[54.0,0.343],[58.2,0.335],[65.7,0.340],[69.4,0.327],[71.0,0.348],[73.3,0.340],[72.9,0.324],[73.3,0.317],[78.5,0.329],[55.2,0.310],[54.9,0.300],[59.5,0.297],[81.4,0.295],[81.6,0.274],[51.1,0.265],[60.5,0.267],[95.3,0.282],
[139.4,0.815],[156.0,0.790],[102.7,0.778],[103.0,0.756],[106.8,0.762],[108.1,0.757],[109.8,0.752],[112.1,0.769],[111.7,0.735],[124.9,0.768],[135.5,0.757],[138.2,0.767],[133.2,0.734],[136.0,0.734],[134.5,0.726],[141.3,0.746],[145.0,0.748],[149.1,0.746],[155.9,0.741],[141.7,0.726],[142.5,0.724],[144.4,0.721],[145.9,0.732],[135.1,0.707],[136.0,0.704],[146.0,0.701],[146.7,0.694],[148.4,0.688],[151.9,0.696],[157.9,0.692],[113.9,0.699],[114.8,0.681],[114.3,0.676],[113.3,0.662],[120.2,0.701],[122.4,0.712],[121.2,0.650],[141.1,0.683],[140.1,0.671],[97.1,0.671],[109.3,0.625],[141.3,0.629],[149.1,0.628],[97.8,0.602],[99.0,0.594],[109.2,0.580],[114.9,0.562],[134.8,0.577],[134.8,0.555],[97.4,0.491],[131.4,0.471],[173.3,0.506],[95.9,0.282]
];

// ---------------- LAYOUT ----------------
const FONT = '"Liberation Sans", Arial, Helvetica, sans-serif';
const panels = [
  {points: yasoPoints, highlight: highlightYaso, color: "#000000", title: siteTitles[0],
   xTicks: xTicksYaso, yTicks: yTicksYaso,
   left: 146, right: 593, top: 10, bottom: 458,
   xDomain: [-4.27, 169.45], yDomain: [0.2396, 1.0468], titleCX: 504, titleBase: [36, 58.5]},
  {points: corbalanPoints, highlight: highlightCorbalan, color: "#DF536B", title: siteTitles[1],
   xTicks: xTicksCorbalan, yTicks: yTicksCorbalan,
   left: 764, right: 1212, top: 10, bottom: 458,
   xDomain: [3.36, 191.6], yDomain: [0.15, 0.7722], titleCX: 1130, titleBase: [36, 58.5]},
  {points: gorgoglionePoints, highlight: highlightGorgoglione, color: "#61D04F", title: siteTitles[2],
   xTicks: xTicksGorgoglione, yTicks: yTicksGorgoglione,
   left: 146, right: 593, top: 630, bottom: 1077,
   xDomain: [-5.8, 210.1], yDomain: [0.1804, 1.0569], titleCX: 521, titleBase: [654, 677]},
  {points: paoloPoints, highlight: highlightPaolo, color: "#2297E6", title: siteTitles[3],
   xTicks: xTicksPaolo, yTicks: yTicksPaolo,
   left: 764, right: 1212, top: 630, bottom: 1077,
   xDomain: [11.94, 179.1], yDomain: [0.2311, 1.1192], titleCX: 1118.5, titleBase: [654, 677]}
];

// ---------------- DRAW ----------------
const svg = d3.select("#chart");
svg.append("rect").attr("width", 1217).attr("height", 1214).attr("fill", "#fff");

panels.forEach((p, i) => {
  const x = d3.scaleLinear().domain(p.xDomain).range([p.left, p.right]);
  const y = d3.scaleLinear().domain(p.yDomain).range([p.bottom, p.top]);
  const g = svg.append("g").attr("class", "panel panel-" + i);

  g.append("g").selectAll("circle").data(p.points).join("circle")
    .attr("cx", d => x(d[0])).attr("cy", d => y(d[1]))
    .attr("r", 3.0).attr("fill", "#BEBEBE");

  g.append("circle")
    .attr("cx", x(p.highlight[0])).attr("cy", y(p.highlight[1]))
    .attr("r", 8.4).attr("fill", p.color)
    .attr("stroke", "#000").attr("stroke-width", 1.6);

  g.append("rect")
    .attr("x", p.left).attr("y", p.top)
    .attr("width", p.right - p.left).attr("height", p.bottom - p.top)
    .attr("fill", "none").attr("stroke", "#000").attr("stroke-width", 2);

  const xa = g.append("g").attr("transform", `translate(0,${p.bottom})`)
    .call(d3.axisBottom(x).tickValues(p.xTicks).tickSize(18).tickFormat(d3.format("d")));
  xa.select(".domain").remove();
  xa.attr("font-family", FONT).attr("font-size", 27);
  xa.selectAll(".tick line").attr("stroke", "#000").attr("stroke-width", 2);
  xa.selectAll(".tick text").attr("y", 61.5).attr("dy", null).attr("fill", "#000");

  const ya = g.append("g").attr("transform", `translate(${p.left},0)`)
    .call(d3.axisLeft(y).tickValues(p.yTicks).tickSize(18).tickFormat(d3.format(".1f")));
  ya.select(".domain").remove();
  ya.attr("font-family", FONT).attr("font-size", 27);
  ya.selectAll(".tick line").attr("stroke", "#000").attr("stroke-width", 2);
  ya.selectAll(".tick text")
    .attr("x", 0).attr("dy", null)
    .attr("transform", "translate(-41.5,0) rotate(-90)")
    .attr("text-anchor", "middle").attr("fill", "#000");

  g.append("text")
    .attr("x", (p.left + p.right) / 2).attr("y", p.bottom + 130)
    .attr("text-anchor", "middle").attr("font-family", FONT).attr("font-size", 27)
    .attr("fill", "#000").text(xAxisTitle);
  g.append("text")
    .attr("transform", `translate(${p.left - 108},${(p.top + p.bottom) / 2}) rotate(-90)`)
    .attr("text-anchor", "middle").attr("font-family", FONT).attr("font-size", 27)
    .attr("fill", "#000").text(yAxisTitle);

  p.title.forEach((line, k) => {
    g.append("text")
      .attr("x", p.titleCX).attr("y", p.titleBase[k])
      .attr("text-anchor", "middle").attr("font-family", FONT).attr("font-size", 20)
      .attr("fill", "#0000FF").text(line);
  });
});
</script>
</body></html>
